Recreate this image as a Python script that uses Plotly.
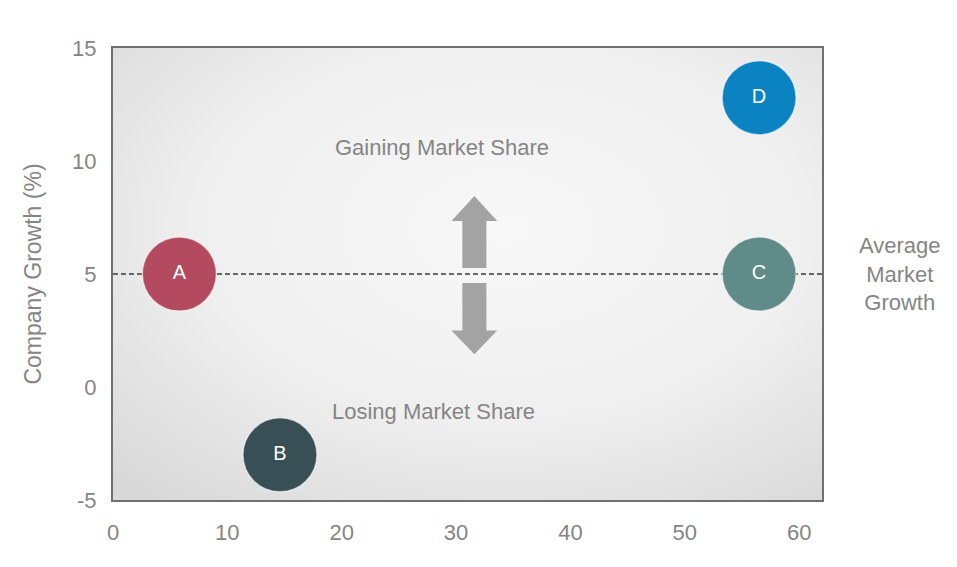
import base64
import plotly.graph_objects as go

# Companies and their position on the chart
companies = ["A", "B", "C", "D"]
market_share = [5.8, 14.6, 56.5, 56.5]      # x axis
company_growth = [5.0, -3.0, 5.0, 12.8]     # y axis, %
colors = ["#b34a5f", "#374f55", "#5f8b88", "#0b82c2"]
avg_growth = 5.0

x_ticks = [0, 10, 20, 30, 40, 50, 60]
y_ticks = [-5, 0, 5, 10, 15]
y_labels = ["-5", "0", "5", "10", "15"]

FONT = "Liberation Sans, Arial, sans-serif"
GRAY = "#858585"

fig = go.Figure()

fig.add_trace(go.Scatter(
    x=market_share,
    y=company_growth,
    mode="markers+text",
    text=companies,
    textposition="middle center",
    textfont=dict(family=FONT, size=20, color="white"),
    marker=dict(size=74, color=colors, opacity=1,
                line=dict(width=1.5, color="rgba(255,255,255,0.55)")),
    hoverinfo="skip",
    showlegend=False,
))

# soft radial grey background for the plot area
svg = (
    "<svg xmlns='http://www.w3.org/2000/svg' width='709' height='452' preserveAspectRatio='none'>"
    "<defs><radialGradient id='g' cx='0.55' cy='0.4' r='0.78'>"
    "<stop offset='0' stop-color='#f8f8f8'/>"
    "<stop offset='0.55' stop-color='#efefef'/>"
    "<stop offset='1' stop-color='#d8d8d8'/>"
    "</radialGradient></defs>"
    "<rect width='100%' height='100%' fill='url(#g)'/></svg>"
)
bg = "data:image/svg+xml;base64," + base64.b64encode(svg.encode()).decode()
fig.add_layout_image(dict(
    source=bg, xref="paper", yref="paper", x=0, y=1, sizex=1, sizey=1,
    sizing="stretch", layer="below",
))

# average market growth line
fig.add_shape(type="line", xref="paper", x0=0, x1=1, y0=avg_growth, y1=avg_growth,
              line=dict(color="#3a3a3a", width=1.5, dash="5px,3px"), layer="below")


def block_arrow(xc, y_base, y_head, y_tip, shaft_w=2.1, head_w=4.0):
    # vertical block arrow, works both up and down
    s, h = shaft_w / 2, head_w / 2
    return (f"M {xc - s} {y_base} L {xc - s} {y_head} L {xc - h} {y_head} "
            f"L {xc} {y_tip} L {xc + h} {y_head} L {xc + s} {y_head} "
            f"L {xc + s} {y_base} Z")


arrow_x = 31.6
for path in [block_arrow(arrow_x, avg_growth + 0.27, avg_growth + 2.35, avg_growth + 3.45),
             block_arrow(arrow_x, avg_growth - 0.4, avg_growth - 2.5, avg_growth - 3.55)]:
    fig.add_shape(type="path", path=path, fillcolor="#a3a3a3",
                  line=dict(width=0), layer="below")

fig.add_annotation(x=28.8, y=10.6, text="Gaining Market Share", showarrow=False,
                   font=dict(family=FONT, size=22, color=GRAY))
fig.add_annotation(x=28.0, y=-1.1, text="Losing Market Share", showarrow=False,
                   font=dict(family=FONT, size=22, color=GRAY))
fig.add_annotation(xref="paper", x=1.11, y=avg_growth, xanchor="center",
                   text="Average<br>Market<br>Growth",
                   showarrow=False, align="center",
                   font=dict(family=FONT, size=22, color=GRAY))

axis_style = dict(
    showgrid=False, zeroline=False,
    showline=True, mirror=True, linecolor="#707070", linewidth=2,
    ticks="outside", tickcolor="rgba(0,0,0,0)",
    tickfont=dict(family=FONT, size=22, color=GRAY),
)

fig.update_xaxes(range=[0, 62], tickvals=x_ticks, ticklen=12, **axis_style)
fig.update_yaxes(range=[-5, 15], tickvals=y_ticks, ticktext=y_labels, ticklen=10,
                 title=dict(text="Company Growth (%)", standoff=24,
                            font=dict(family=FONT, size=23, color=GRAY)),
                 **axis_style)

# page body adds 8px, so the figure is a little smaller than the window
fig.update_layout(
    width=949, height=559,
    margin=dict(l=105, r=135, t=40, b=67),
    paper_bgcolor="white",
    plot_bgcolor="#ececec",
)

fig.write_html("out.html")
